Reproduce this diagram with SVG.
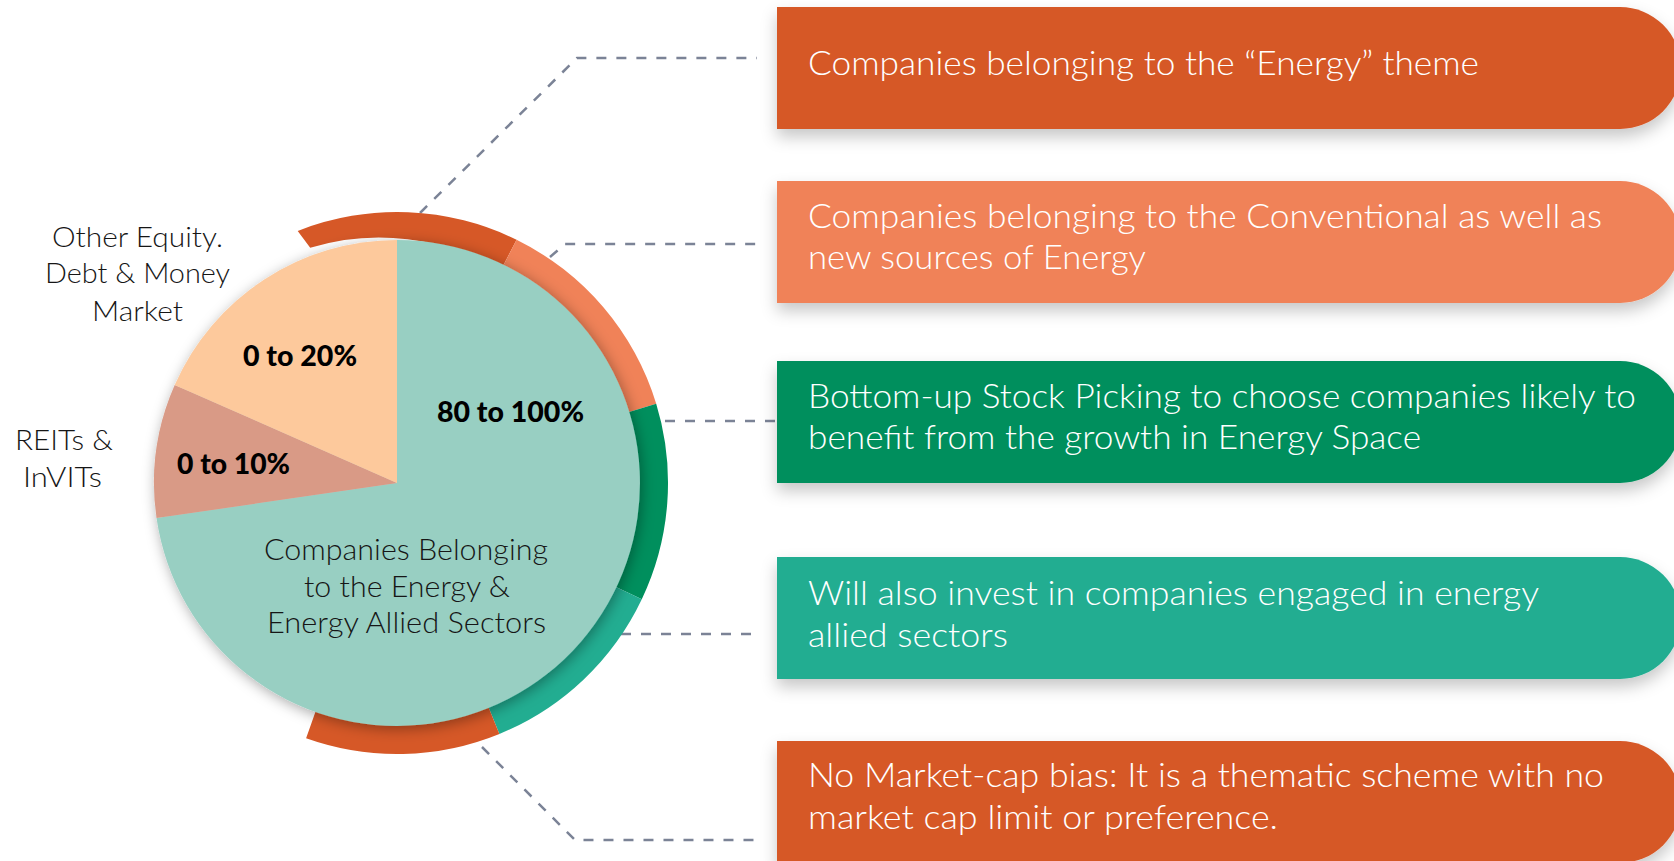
<svg xmlns="http://www.w3.org/2000/svg" width="1674" height="861" viewBox="0 0 1674 861">
  <style>
    .box-text { font-family: Lato, "Noto Sans", "Liberation Sans", sans-serif; font-weight: 300; font-size: 33px; fill: #ffffff; }
    .dark-text { font-family: Lato, "Noto Sans", "Liberation Sans", sans-serif; font-weight: 300; fill: #161616; text-anchor: middle; }
    .pct { font-family: Lato, "Liberation Sans", Arial, sans-serif; font-weight: 900; font-size: 28px; fill: #000000; }
    .conn { fill: none; stroke: #7b8396; stroke-width: 2.5; stroke-dasharray: 10 10; }
  </style>
  <defs>
    <filter id="boxShadow" x="-10%" y="-30%" width="130%" height="180%">
      <feDropShadow dx="0" dy="8" stdDeviation="8" flood-color="#000000" flood-opacity="0.22"/>
    </filter>
    <filter id="pieShadow" x="-20%" y="-20%" width="140%" height="140%">
      <feDropShadow dx="2" dy="3" stdDeviation="7" flood-color="#000000" flood-opacity="0.35"/>
    </filter>
  </defs>
  <rect width="1674" height="861" fill="#ffffff"/>

  <!-- connectors -->
  <g id="connectors">
    <path class="conn" d="M420,213 L577,58 H757"/>
    <path class="conn" d="M550,257 L565,244 H762"/>
    <path class="conn" d="M665,421 H777"/>
    <path class="conn" d="M621,634 H752"/>
    <path class="conn" d="M482,747 L575,840 H758"/>
  </g>

  <!-- outer ring -->
  <g id="ring">
    <path fill="#d65827" d="M297.7,230.9 A271,271 0 0 1 516.6,239.8 L500.4,271.0 A236,236 0 0 0 310.2,247.7 Z"/>
    <path fill="#f08258" d="M516.6,239.8 A271,271 0 0 1 656.2,403.8 L622.6,414.0 A236,236 0 0 0 500.4,271.0 Z"/>
    <path fill="#008f5d" d="M656.2,403.8 A271,271 0 0 1 641.8,599.2 L610.2,584.2 A236,236 0 0 0 622.6,414.0 Z"/>
    <path fill="#22ad91" d="M641.8,599.2 A271,271 0 0 1 499.4,733.9 L486.2,701.5 A236,236 0 0 0 610.2,584.2 Z"/>
    <path fill="#d65827" d="M499.4,733.9 A271,271 0 0 1 306.1,738.3 L317.8,705.3 A236,236 0 0 0 486.2,701.5 Z"/>
  </g>

  <!-- pie -->
  <g id="pie" filter="url(#pieShadow)">
    <path id="slice-energy" fill="#98cfc2" d="M397,483 L397,240 A243,243 0 1 1 156.5,518.1 Z"/>
    <path id="slice-reits" fill="#d99a86" d="M397,483 L156.5,518.1 A243,243 0 0 1 174.7,384.9 Z"/>
    <path id="slice-other" fill="#fdc99c" d="M397,483 L174.7,384.9 A243,243 0 0 1 397,240 Z"/>
  </g>

  <g id="pie-labels">
    <text class="pct" x="243" y="366" textLength="114" lengthAdjust="spacingAndGlyphs">0 to 20%</text>
    <text class="pct" x="437" y="422" textLength="147" lengthAdjust="spacingAndGlyphs">80 to 100%</text>
    <text class="pct" x="177" y="474" textLength="113" lengthAdjust="spacingAndGlyphs">0 to 10%</text>
    <text class="dark-text" font-size="30" x="406" y="560" textLength="284" lengthAdjust="spacingAndGlyphs">Companies Belonging</text>
    <text class="dark-text" font-size="30" x="407" y="597" textLength="206" lengthAdjust="spacingAndGlyphs">to the Energy &amp;</text>
    <text class="dark-text" font-size="30" x="406.5" y="633" textLength="279" lengthAdjust="spacingAndGlyphs">Energy Allied Sectors</text>
  </g>

  <g id="label-other">
    <text class="dark-text" font-size="28" x="137.5" y="247" textLength="171" lengthAdjust="spacingAndGlyphs">Other Equity.</text>
    <text class="dark-text" font-size="28" x="137.5" y="283" textLength="185" lengthAdjust="spacingAndGlyphs">Debt &amp; Money</text>
    <text class="dark-text" font-size="28" x="137.5" y="321" textLength="91" lengthAdjust="spacingAndGlyphs">Market</text>
  </g>
  <g id="label-reits">
    <text class="dark-text" font-size="28" x="64" y="450" textLength="98" lengthAdjust="spacingAndGlyphs">REITs &amp;</text>
    <text class="dark-text" font-size="28" x="62.5" y="487" textLength="79" lengthAdjust="spacingAndGlyphs">InVITs</text>
  </g>

  <!-- boxes -->
  <g id="box1">
    <path filter="url(#boxShadow)" fill="#d65827" d="M777,7 H1620 A61,61 0 0 1 1620,129 H777 Z"/>
    <text class="box-text" x="808" y="75" textLength="671" lengthAdjust="spacingAndGlyphs">Companies belonging to the “Energy” theme</text>
  </g>
  <g id="box2">
    <path filter="url(#boxShadow)" fill="#f08258" d="M777,181 H1620 A61,61 0 0 1 1620,303 H777 Z"/>
    <text class="box-text" x="808" y="228" textLength="794" lengthAdjust="spacingAndGlyphs">Companies belonging to the Conventional as well as</text>
    <text class="box-text" x="808" y="269" textLength="338" lengthAdjust="spacingAndGlyphs">new sources of Energy</text>
  </g>
  <g id="box3">
    <path filter="url(#boxShadow)" fill="#008f5d" d="M777,361 H1620 A61,61 0 0 1 1620,483 H777 Z"/>
    <text class="box-text" x="808" y="408" textLength="828" lengthAdjust="spacingAndGlyphs">Bottom-up Stock Picking to choose companies likely to</text>
    <text class="box-text" x="808" y="449" textLength="613" lengthAdjust="spacingAndGlyphs">benefit from the growth in Energy Space</text>
  </g>
  <g id="box4">
    <path filter="url(#boxShadow)" fill="#22ad91" d="M777,557 H1620 A61,61 0 0 1 1620,679 H777 Z"/>
    <text class="box-text" x="808" y="605" textLength="731" lengthAdjust="spacingAndGlyphs">Will also invest in companies engaged in energy</text>
    <text class="box-text" x="808" y="647" textLength="200" lengthAdjust="spacingAndGlyphs">allied sectors</text>
  </g>
  <g id="box5">
    <path filter="url(#boxShadow)" fill="#d65827" d="M777,741 H1620 A61,61 0 0 1 1620,863 H777 Z"/>
    <text class="box-text" x="808" y="787" textLength="796" lengthAdjust="spacingAndGlyphs">No Market-cap bias: It is a thematic scheme with no</text>
    <text class="box-text" x="808" y="829" textLength="470" lengthAdjust="spacingAndGlyphs">market cap limit or preference.</text>
  </g>
</svg>
